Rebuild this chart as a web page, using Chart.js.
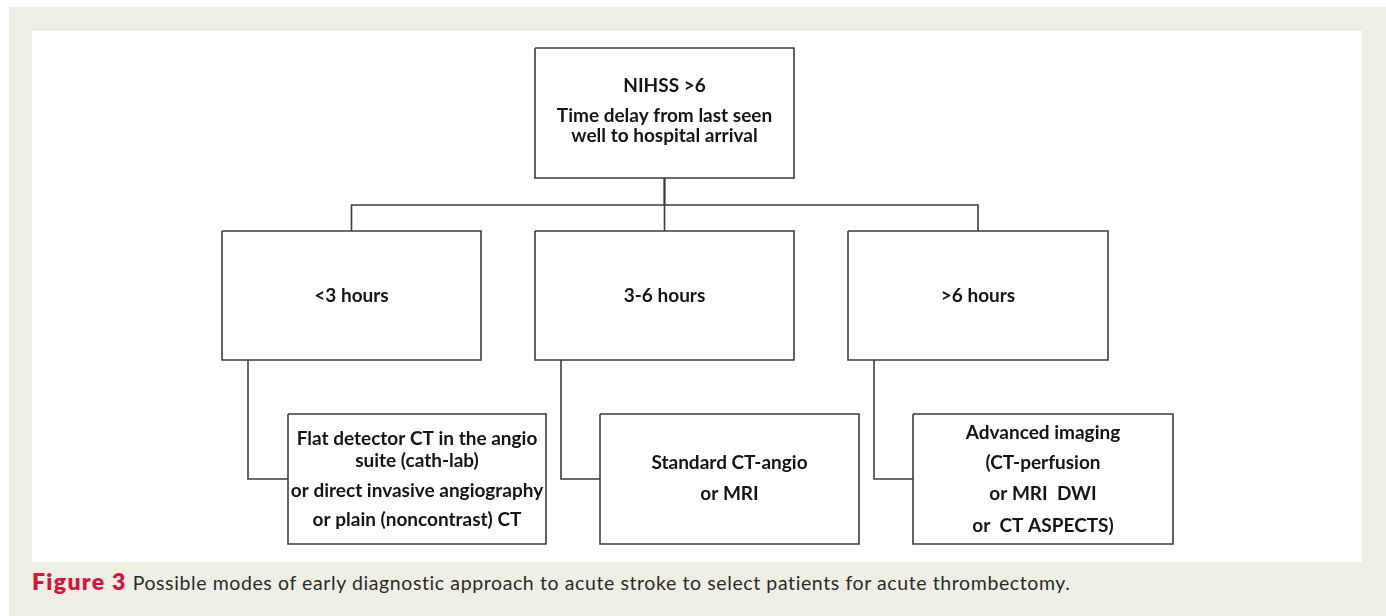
<!DOCTYPE html>
<html>
<head>
<meta charset="utf-8">
<script src="https://cdn.jsdelivr.net/npm/chart.js@4.4.1/dist/chart.umd.min.js"></script>
<style>
    html, body { margin: 0; padding: 0; background: #ffffff; }
    body { width: 1386px; height: 616px; position: relative; overflow: hidden; }
    #frame {
        position: absolute; left: 9px; top: 7px; right: 0; bottom: 0;
        background: #efeee4;
    }
    #panel {
        position: absolute; left: 32px; top: 31px; width: 1330px; height: 531px;
        background: #ffffff;
    }
    #caption {
        position: absolute; left: 32px; top: 567px;
        font-family: Lato, "Open Sans", sans-serif;
        font-size: 19.5px; letter-spacing: 0.6px; color: #2a2a2a; white-space: nowrap;
    }
    #caption b { color: #d3163f; font-size: 23px; font-weight: 800; letter-spacing: 1.3px; margin-right: 6px; }
</style>
</head>
<body>
<div id="frame"></div>
<div id="panel"><canvas id="flowChart" width="1330" height="531"></canvas></div>
<div id="caption"><b id="cap-lead"></b><span id="cap-text"></span></div>

<script>
// Node texts (one entry per box, one string per line)
const nodeLabels = [
    ['NIHSS >6', 'Time delay from last seen', 'well to hospital arrival'],
    ['<3 hours'],
    ['3-6 hours'],
    ['>6 hours'],
    ['Flat detector CT in the angio', 'suite (cath-lab)', 'or direct invasive angiography', 'or plain (noncontrast) CT'],
    ['Standard CT-angio', 'or MRI'],
    ['Advanced imaging', '(CT-perfusion', 'or MRI  DWI', 'or  CT ASPECTS)']
];

// Parent -> child links
const edges = [[0, 1], [0, 2], [0, 3], [1, 4], [2, 5], [3, 6]];

const captionLead = 'Figure 3';
const captionText = 'Possible modes of early diagnostic approach to acute stroke to select patients for acute thrombectomy.';

// Layout (axis units = page pixels)
const boxes = [
    { x0: 535, x1: 794, y0: 48, y1: 178 },
    { x0: 222, x1: 481, y0: 231, y1: 360 },
    { x0: 535, x1: 794, y0: 231, y1: 360 },
    { x0: 848, x1: 1108, y0: 231, y1: 360 },
    { x0: 288, x1: 546, y0: 414, y1: 544 },
    { x0: 600, x1: 859, y0: 414, y1: 544 },
    { x0: 913, x1: 1173, y0: 414, y1: 544 }
];
const baselines = [
    [92, 122, 142],
    [302],
    [302],
    [302],
    [445, 467, 497, 526],
    [469, 500],
    [439, 469, 500, 532]
];
const busY = 205;
const stemOffset = 26;
const lineColor = '#3c3c3c';

// Connector path: a parent with several children uses the horizontal bus,
// a single child hangs off a side stem
function edgePoints(p, c) {
    const a = boxes[p], b = boxes[c];
    const siblings = edges.filter(e => e[0] === p).length;
    if (siblings > 1) {
        const px = (a.x0 + a.x1) / 2, cx = (b.x0 + b.x1) / 2;
        return [{ x: px, y: a.y1 }, { x: px, y: busY }, { x: cx, y: busY }, { x: cx, y: b.y0 }];
    }
    const sx = a.x0 + stemOffset, my = (b.y0 + b.y1) / 2;
    return [{ x: sx, y: a.y1 }, { x: sx, y: my }, { x: b.x0, y: my }];
}

function boxPoints(b) {
    return [
        { x: b.x0, y: b.y0 }, { x: b.x1, y: b.y0 },
        { x: b.x1, y: b.y1 }, { x: b.x0, y: b.y1 }, { x: b.x0, y: b.y0 }
    ];
}

const datasets = [];
boxes.forEach(b => datasets.push({
    data: boxPoints(b), showLine: true, borderColor: lineColor, borderWidth: 1.6,
    pointRadius: 0, tension: 0, fill: false
}));
edges.forEach(([p, c]) => datasets.push({
    data: edgePoints(p, c), showLine: true, borderColor: lineColor, borderWidth: 1.6,
    pointRadius: 0, tension: 0, fill: false
}));

// Box labels drawn at scale positions
const labelPlugin = {
    id: 'boxLabels',
    afterDatasetsDraw(chart) {
        const { ctx, scales } = chart;
        ctx.save();
        ctx.fillStyle = '#141414';
        ctx.font = 'bold 19px Lato, "Open Sans", sans-serif';
        ctx.textAlign = 'center';
        ctx.textBaseline = 'alphabetic';
        nodeLabels.forEach((lines, i) => {
            const cx = scales.x.getPixelForValue((boxes[i].x0 + boxes[i].x1) / 2);
            lines.forEach((txt, j) => {
                ctx.fillText(txt, cx, scales.y.getPixelForValue(baselines[i][j]));
            });
        });
        ctx.restore();
    }
};

new Chart(document.getElementById('flowChart').getContext('2d'), {
    type: 'scatter',
    data: { datasets: datasets },
    options: {
        responsive: false,
        animation: false,
        layout: { padding: 0 },
        plugins: { legend: { display: false }, tooltip: { enabled: false } },
        scales: {
            x: { type: 'linear', min: 32, max: 1362, display: false },
            y: { type: 'linear', min: 31, max: 562, reverse: true, display: false }
        }
    },
    plugins: [labelPlugin]
});

document.getElementById('cap-lead').textContent = captionLead;
document.getElementById('cap-text').textContent = captionText;
</script>
</body>
</html>
